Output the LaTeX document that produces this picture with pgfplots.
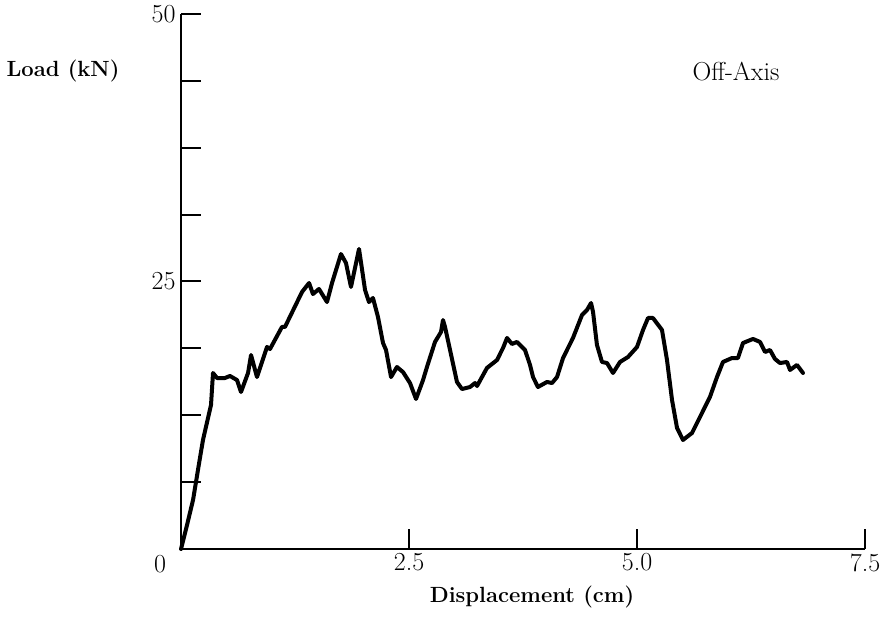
\documentclass[border=0pt]{standalone}
\usepackage{fontspec}
\usepackage{pgfplots}
\pgfplotsset{compat=1.18}
\begin{document}
\begin{tikzpicture}
\begin{axis}[
  scale only axis, width=684pt, height=535pt,
  xmin=0, xmax=7.5, ymin=0, ymax=50,
  axis x line=bottom, axis y line=left,
  axis line style={-, line width=2.4pt},
  xtick={2.5,5,7.5}, xticklabels={2.5,5.0,7.5},
  ytick={0,6.25,12.5,18.75,25,31.25,37.5,43.75,50},
  yticklabels={,,,,25,,,,50},
  tick align=inside, major tick length=20pt,
  tick style={line width=2pt, black},
  /pgf/number format/assume math mode=true,
  ticklabel style={font=\fontsize{26}{30}\selectfont},
  xticklabel style={yshift=-1pt},
  yticklabel style={xshift=-2pt},
  clip=false,
]
\addplot[black, line width=4pt, line join=round, line cap=round] coordinates {
(0,0) (0.066,2.24) (0.132,4.58) (0.186,7.38) (0.241,10.19) (0.329,13.46) (0.351,16.45)
(0.395,15.98) (0.482,15.98) (0.537,16.17) (0.614,15.79) (0.658,14.67) (0.735,16.45)
(0.768,18.13) (0.833,16.07) (0.943,18.88) (0.976,18.69) (1.107,20.75) (1.140,20.75)
(1.327,24.02) (1.404,24.86) (1.447,23.83) (1.513,24.30) (1.601,23.08) (1.656,24.86)
(1.754,27.57) (1.809,26.73) (1.864,24.49) (1.952,28.04) (2.018,24.21) (2.061,23.08)
(2.105,23.46) (2.160,21.68) (2.215,19.25) (2.248,18.60) (2.303,16.07) (2.368,17.01)
(2.434,16.54) (2.511,15.51) (2.577,14.02) (2.654,15.79) (2.697,17.01) (2.785,19.35)
(2.851,20.28) (2.873,21.40) (2.895,20.75) (2.950,18.60) (3.026,15.61) (3.081,14.95)
(3.169,15.14) (3.224,15.51) (3.246,15.23) (3.355,16.92) (3.465,17.66) (3.531,18.79)
(3.575,19.72) (3.629,19.16) (3.684,19.35) (3.772,18.60) (3.827,17.20) (3.860,16.07)
(3.914,15.14) (4.013,15.61) (4.068,15.51) (4.123,16.07) (4.189,17.85) (4.298,19.72)
(4.397,21.87) (4.452,22.34) (4.496,22.99) (4.518,22.15) (4.561,19.07) (4.616,17.48)
(4.671,17.38) (4.737,16.45) (4.814,17.48) (4.901,17.94) (5.000,18.88) (5.066,20.47)
(5.121,21.59) (5.175,21.59) (5.274,20.47) (5.329,17.66) (5.384,13.93) (5.439,11.31)
(5.504,10.19) (5.603,10.84) (5.691,12.34) (5.800,14.21) (5.877,16.07) (5.943,17.48)
(6.042,17.85) (6.107,17.85) (6.162,19.25) (6.272,19.63) (6.349,19.35) (6.404,18.41)
(6.458,18.60) (6.513,17.76) (6.568,17.38) (6.645,17.48) (6.678,16.73) (6.754,17.20)
(6.820,16.45)
};
\end{axis}
\node at (-21pt,-15pt) {\fontsize{26}{30}\selectfont 0};
\node at (-118pt,478pt) {\fontsize{22}{26}\selectfont\bfseries Load (kN)};
\node at (555pt,477pt) {\fontsize{26}{30}\selectfont Off-Axis};
\node at (351pt,-48pt) {\fontsize{22}{26}\selectfont\bfseries Displacement (cm)};
\pgfresetboundingbox
\path (-181pt,-68pt) rectangle (701pt,549pt);
\end{tikzpicture}
\end{document}
